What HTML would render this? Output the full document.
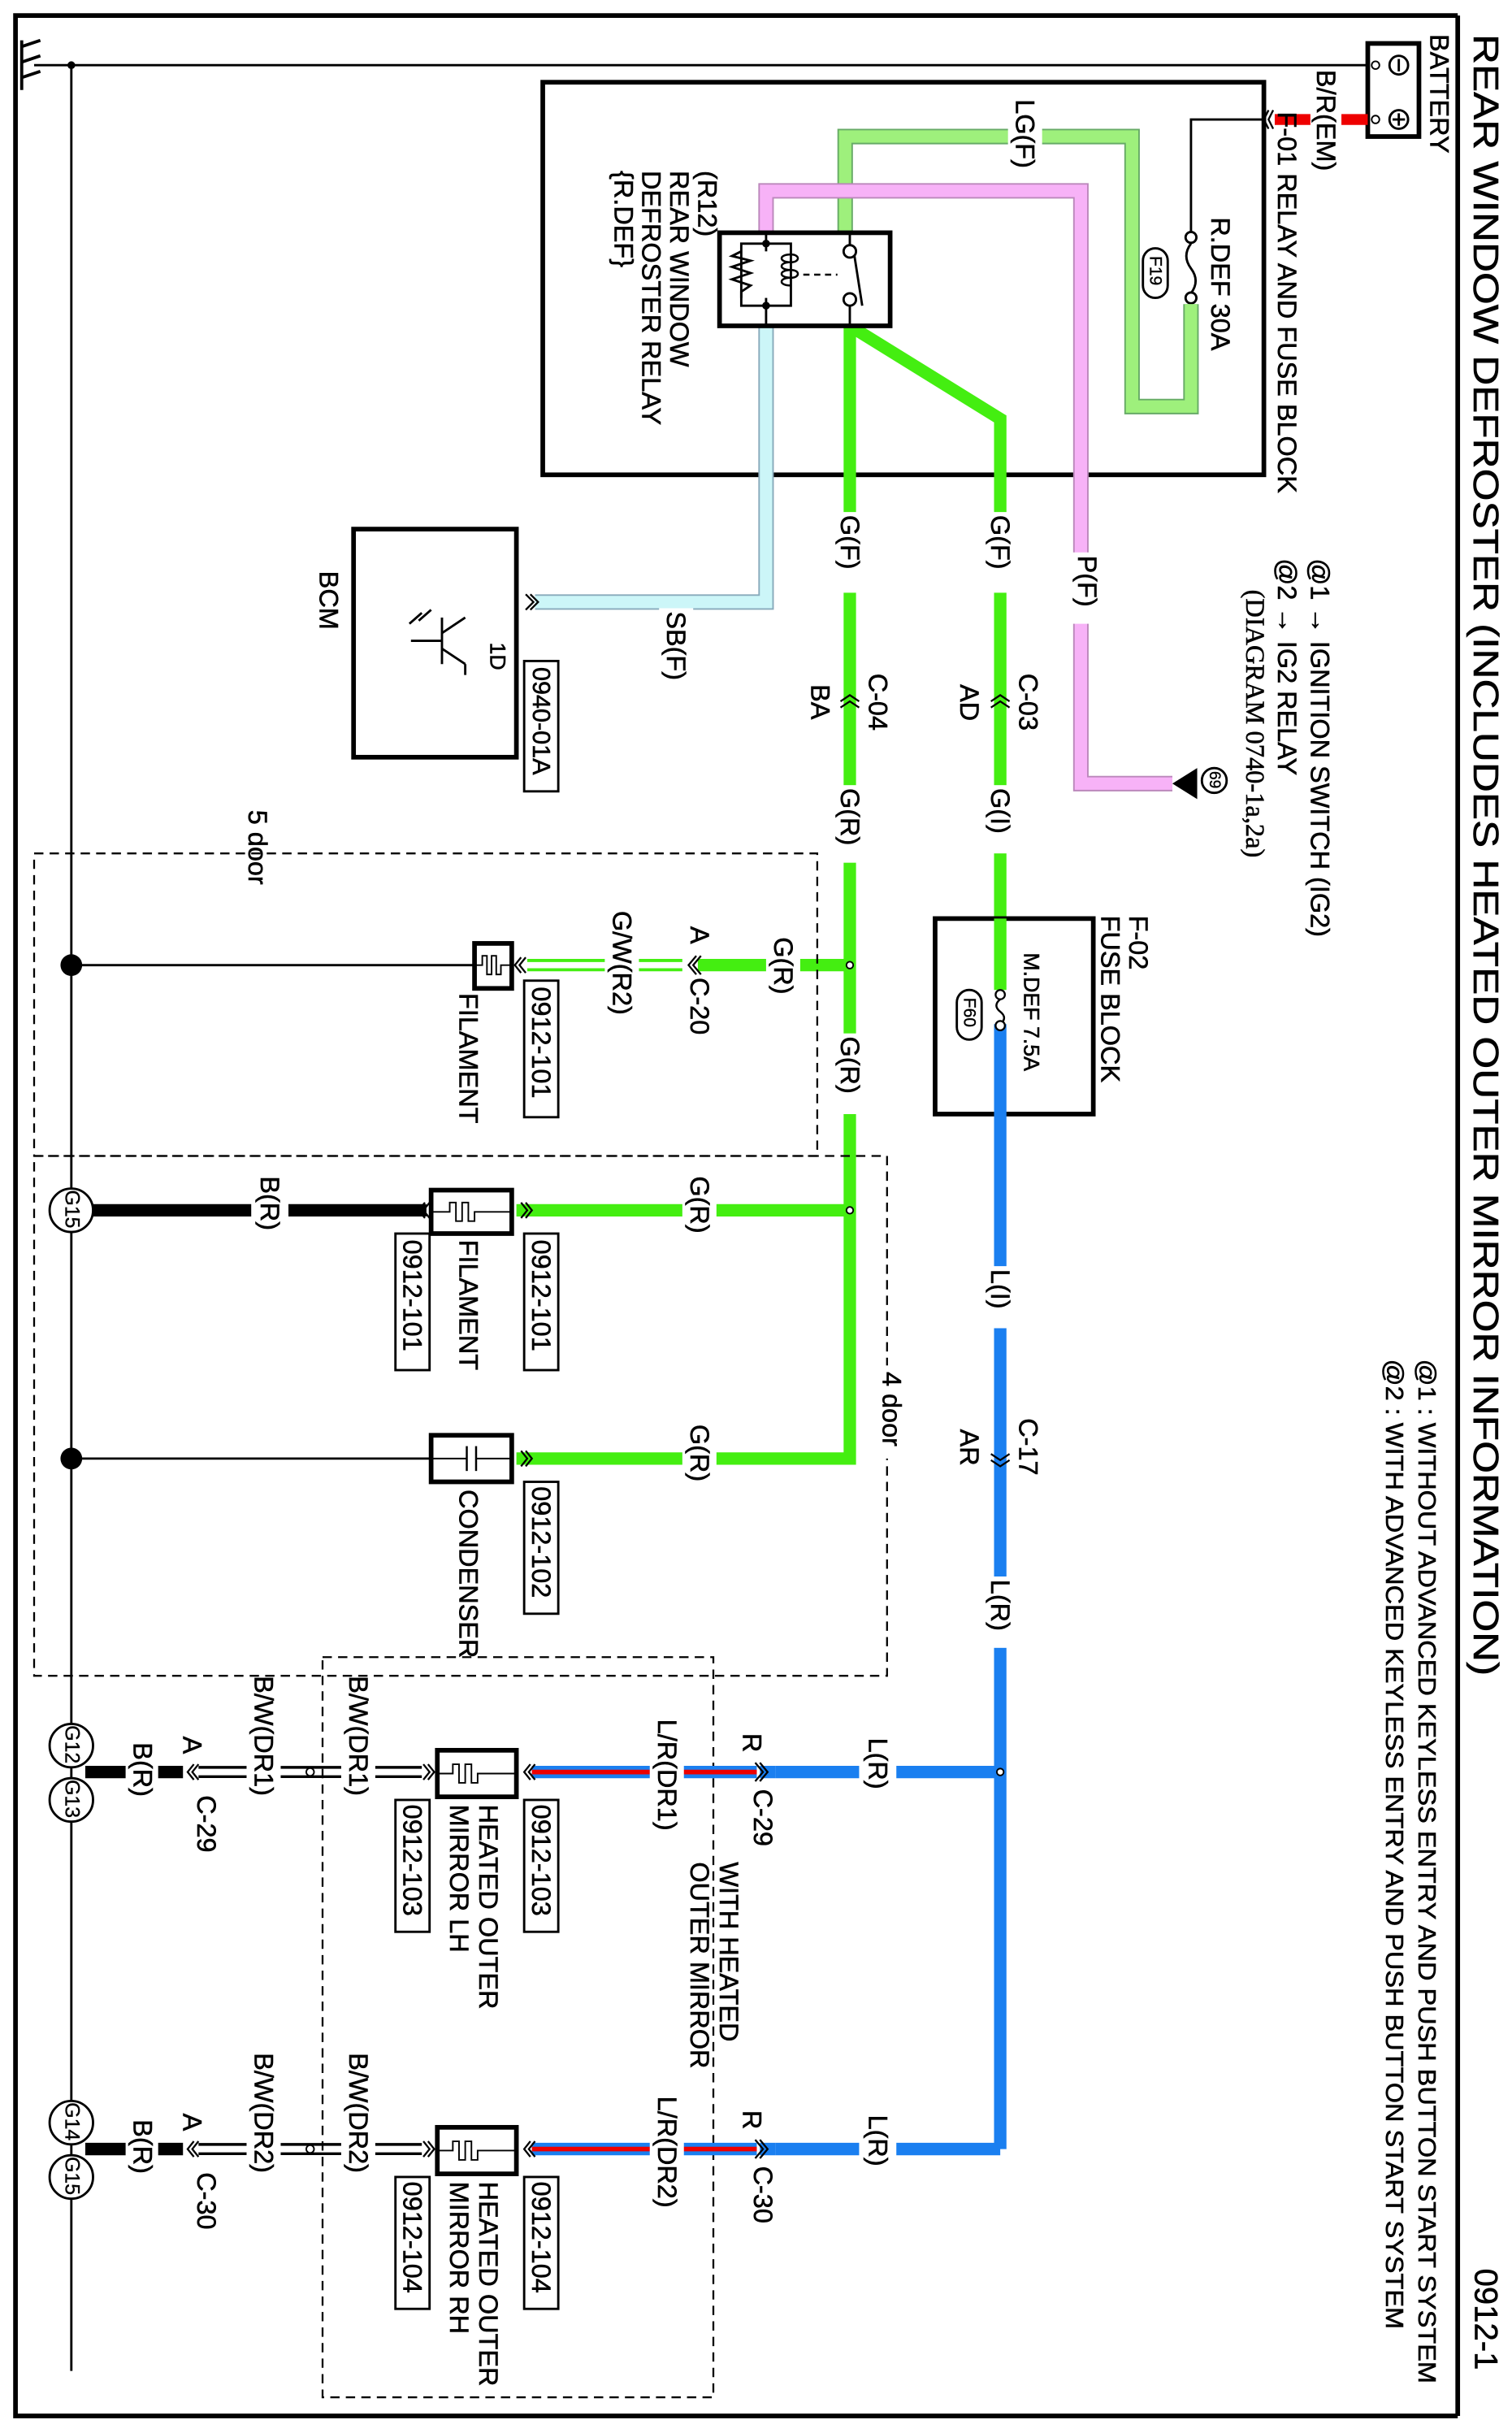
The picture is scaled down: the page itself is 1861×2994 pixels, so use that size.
<!DOCTYPE html>
<html><head><meta charset="utf-8"><style>
html,body{margin:0;padding:0;background:#fff}
svg{display:block}
text{font-family:"Liberation Sans",Arial,sans-serif;fill:#000}
.t{font-size:17px;dominant-baseline:central;stroke:#000;stroke-width:0.3}
.s{font-size:13px;dominant-baseline:central;stroke:#000;stroke-width:0.2}
</style></head><body>
<svg width="1861" height="2994" viewBox="0 0 975 1568" preserveAspectRatio="none" xmlns="http://www.w3.org/2000/svg">
<rect x="0" y="0" width="975" height="1568" fill="#fff"/>
<polyline points="940,10 10,10 10,1557 940,1557" fill="none" stroke="#000" stroke-width="3"/>
<line x1="940" y1="10" x2="940" y2="1557" stroke="#000" stroke-width="3"/>
<text class="t" style="font-size:23px" transform="translate(958,22) rotate(90)" textLength="1058" lengthAdjust="spacingAndGlyphs">REAR WINDOW DEFROSTER (INCLUDES HEATED OUTER MIRROR INFORMATION)</text>
<text class="t" style="font-size:21px" transform="translate(958,1462) rotate(90)">0912-1</text>
<text class="t" style="font-size:16px" transform="translate(920,876) rotate(90)" textLength="660" lengthAdjust="spacingAndGlyphs">@1 : WITHOUT ADVANCED KEYLESS ENTRY AND PUSH BUTTON START SYSTEM</text>
<text class="t" style="font-size:16px" transform="translate(899,876) rotate(90)" textLength="625" lengthAdjust="spacingAndGlyphs">@2 : WITH ADVANCED KEYLESS ENTRY AND PUSH BUTTON START SYSTEM</text>

<line x1="22" y1="42" x2="882" y2="42" stroke="#000" stroke-width="1.5"/>
<circle cx="46" cy="42" r="2.5" fill="#000"/>
<line x1="46" y1="42" x2="46" y2="1528" stroke="#000" stroke-width="1.5"/>
<g stroke="#000" stroke-width="2">
<line x1="14" y1="26" x2="14" y2="58"/><line x1="14" y1="30" x2="26" y2="26"/><line x1="14" y1="40" x2="26" y2="36"/><line x1="14" y1="50" x2="26" y2="46"/>
</g>

<rect x="882" y="28" width="33" height="60" fill="#fff" stroke="#000" stroke-width="3"/>
<circle cx="902" cy="42" r="6" fill="none" stroke="#000" stroke-width="1.5"/><line x1="902" y1="38" x2="902" y2="46" stroke="#000" stroke-width="1.5"/>
<circle cx="902" cy="77" r="6" fill="none" stroke="#000" stroke-width="1.5"/><line x1="902" y1="73" x2="902" y2="81" stroke="#000" stroke-width="1.5"/><line x1="898" y1="77" x2="906" y2="77" stroke="#000" stroke-width="1.5"/>
<circle cx="887" cy="42" r="2.5" fill="#fff" stroke="#000"/><circle cx="887" cy="77" r="2.5" fill="#fff" stroke="#000"/>
<text class="t" transform="translate(928,22) rotate(90)">BATTERY</text>
<line x1="822" y1="77" x2="882" y2="77" stroke="#e00" stroke-width="7"/>
<rect x="845" y="44" width="20" height="70" fill="#fff"/>
<text class="t" transform="translate(855,45) rotate(90)">B/R(EM)</text>
<polyline points="818,71 815,77 818,83" fill="none" stroke="#000" stroke-width="1.2"/>
<polyline points="821,71 818,77 821,83" fill="none" stroke="#000" stroke-width="1.2"/>
<text class="t" transform="translate(830,72) rotate(90)">F-01 RELAY AND FUSE BLOCK</text>

<rect x="350" y="53" width="465" height="253" fill="none" stroke="#000" stroke-width="3"/>
<polyline points="815,77 768,77 768,150" fill="none" stroke="#000" stroke-width="1.5"/>
<circle cx="768" cy="153" r="3.5" fill="#fff" stroke="#000" stroke-width="1.5"/>
<path d="M768,157 q-6,8 0,16 q6,8 0,16" fill="none" stroke="#000" stroke-width="1.5"/>
<circle cx="768" cy="192" r="3.5" fill="#fff" stroke="#000" stroke-width="1.5"/>
<text class="t" transform="translate(787,140) rotate(90)">R.DEF 30A</text>
<rect x="737" y="160" width="16" height="32" rx="8" fill="none" stroke="#000" stroke-width="1.5"/>
<text class="s" style="font-size:11px" transform="translate(745,165) rotate(90)">F19</text>
<polyline points="768,196 768,262 730,262 730,88 545,88 545,150" fill="none" stroke="#6a6" stroke-width="10"/>
<polyline points="768,196 768,262 730,262 730,88 545,88 545,150" fill="none" stroke="#9ef07c" stroke-width="8"/>
<rect x="650" y="62" width="22" height="52" fill="#fff"/>
<text class="t" transform="translate(661,64) rotate(90)">LG(F)</text>
<polyline points="494,150 494,123 697,123 697,505 756,505" fill="none" stroke="#b8b" stroke-width="10"/>
<polyline points="494,150 494,123 697,123 697,505 756,505" fill="none" stroke="#f7b2f7" stroke-width="8"/>
<rect x="688" y="356" width="22" height="46" fill="#fff"/>
<text class="t" transform="translate(701,358) rotate(90)">P(F)</text>
<polygon points="756,505 772,495 772,515" fill="#000"/>
<circle cx="783" cy="503" r="8" fill="#fff" stroke="#000" stroke-width="1.5"/>
<text class="s" style="font-size:10px" transform="translate(783,497) rotate(90)">69</text>
<text class="t" transform="translate(851,360) rotate(90)">@1 → IGNITION SWITCH (IG2)</text>
<text class="t" transform="translate(830,360) rotate(90)">@2 → IG2 RELAY</text>
<text class="t" style="font-family:'Liberation Serif',serif" transform="translate(809,380) rotate(90)">(DIAGRAM 0740-1a,2a)</text>
<text class="t" transform="translate(456,110) rotate(90)">(R12)</text>
<text class="t" transform="translate(438,110) rotate(90)">REAR WINDOW</text>
<text class="t" transform="translate(420,110) rotate(90)">DEFROSTER RELAY</text>
<text class="t" transform="translate(402,110) rotate(90)">{R.DEF}</text>

<polyline points="494,210 494,388 345,388" fill="none" stroke="#8ab" stroke-width="10"/>
<polyline points="494,210 494,388 345,388" fill="none" stroke="#ccf6f8" stroke-width="8"/>
<rect x="425" y="392" width="22" height="52" fill="#fff"/>
<text class="t" transform="translate(436,394) rotate(90)">SB(F)</text>
<polyline points="548,210 548,940 333,940" fill="none" stroke="#44ee11" stroke-width="8"/>
<polyline points="548,210 645,270 645,640" fill="none" stroke="#44ee11" stroke-width="8"/>
<line x1="548" y1="622" x2="450" y2="622" stroke="#44ee11" stroke-width="8"/>
<line x1="548" y1="780" x2="333" y2="780" stroke="#44ee11" stroke-width="8"/>
<rect x="464" y="150" width="110" height="60" fill="#fff" stroke="#000" stroke-width="3"/>
<line x1="494" y1="150" x2="494" y2="210" stroke="#000" stroke-width="1.5"/>
<polyline points="494,157 510,157 510,197 494,197 478,197 478,157 494,157" fill="none" stroke="#000" stroke-width="1.5"/>
<circle cx="494" cy="157" r="2.5" fill="#000"/><circle cx="494" cy="197" r="2.5" fill="#000"/>
<rect x="480" y="162" width="28" height="30" fill="#fff"/>
<polyline points="478,162 472,165 484,168 472,172 484,176 472,180 484,184 478,188 478,192" fill="none" stroke="#000" stroke-width="1.5"/>
<path d="M510,164 c-8,0 -8,5 0,5 c-8,0 -8,5 0,5 c-8,0 -8,5 0,5 c-8,0 -8,5 0,5 M510,164 c6,0 6,5 0,5 M510,174 c6,0 6,5 0,5" fill="none" stroke="#000" stroke-width="1.3"/>
<line x1="518" y1="177" x2="540" y2="177" stroke="#000" stroke-width="1.3" stroke-dasharray="4,3"/>
<line x1="548" y1="150" x2="548" y2="158" stroke="#000" stroke-width="1.5"/>
<circle cx="548" cy="162" r="4" fill="#fff" stroke="#000" stroke-width="1.5"/>
<circle cx="548" cy="193" r="4" fill="#fff" stroke="#000" stroke-width="1.5"/>
<line x1="548" y1="197" x2="548" y2="210" stroke="#000" stroke-width="1.5"/>
<line x1="551" y1="165" x2="556" y2="197" stroke="#000" stroke-width="1.5"/>

<rect x="537" y="330" width="22" height="52" fill="#fff"/>
<text class="t" transform="translate(548,332) rotate(90)">G(F)</text>
<rect x="634" y="330" width="22" height="52" fill="#fff"/>
<text class="t" transform="translate(645,332) rotate(90)">G(F)</text>
<rect x="537" y="506" width="22" height="50" fill="#fff"/>
<text class="t" transform="translate(548,508) rotate(90)">G(R)</text>
<rect x="634" y="506" width="22" height="44" fill="#fff"/>
<text class="t" transform="translate(645,508) rotate(90)">G(I)</text>
<rect x="537" y="666" width="22" height="52" fill="#fff"/>
<text class="t" transform="translate(548,668) rotate(90)">G(R)</text>
<polyline points="542,452 548,448 554,452" fill="none" stroke="#000" stroke-width="1.2"/>
<polyline points="542,456 548,452 554,456" fill="none" stroke="#000" stroke-width="1.2"/>
<text class="t" transform="translate(566,434) rotate(90)">C-04</text>
<text class="t" transform="translate(529,441) rotate(90)">BA</text>
<polyline points="639,452 645,448 651,452" fill="none" stroke="#000" stroke-width="1.2"/>
<polyline points="639,456 645,452 651,456" fill="none" stroke="#000" stroke-width="1.2"/>
<text class="t" transform="translate(663,434) rotate(90)">C-03</text>
<text class="t" transform="translate(625,441) rotate(90)">AD</text>

<rect x="228" y="341" width="105" height="147" fill="#fff" stroke="#000" stroke-width="3"/>
<text class="t" transform="translate(212,368) rotate(90)">BCM</text>
<line x1="333" y1="388" x2="333" y2="440" stroke="#000" stroke-width="1.5"/>
<text class="t" style="font-size:14px" transform="translate(321,414) rotate(90)">1D</text>
<polyline points="339,383 344,388 339,393" fill="none" stroke="#000" stroke-width="1.2"/>
<polyline points="342,383 347,388 342,393" fill="none" stroke="#000" stroke-width="1.2"/>
<rect x="338" y="426" width="22" height="84" fill="#fff" stroke="#000" stroke-width="1.5"/>
<text class="t" style="font-size:16px" transform="translate(349,430) rotate(90)">0940-01A</text>
<g stroke="#000" stroke-width="1.5" fill="none">
<line x1="285" y1="398" x2="285" y2="428"/><line x1="285" y1="408" x2="300" y2="398"/><line x1="285" y1="418" x2="300" y2="428"/>
<line x1="300" y1="428" x2="300" y2="435"/><line x1="265" y1="413" x2="285" y2="413"/>
<line x1="270" y1="400" x2="278" y2="393"/><line x1="264" y1="402" x2="272" y2="395"/>
</g>

<rect x="603" y="592" width="102" height="126" fill="#fff" stroke="#000" stroke-width="3"/>
<line x1="645" y1="592" x2="645" y2="638" stroke="#44ee11" stroke-width="8"/>
<line x1="645" y1="660" x2="645" y2="1385" stroke="#1a7ff0" stroke-width="8"/>
<line x1="645" y1="1385" x2="500" y2="1385" stroke="#1a7ff0" stroke-width="8"/>
<line x1="645" y1="1142" x2="500" y2="1142" stroke="#1a7ff0" stroke-width="8"/>
<circle cx="645" cy="641" r="3" fill="#fff" stroke="#000" stroke-width="1.2"/>
<path d="M645,644 q-5,4 0,8 q5,4 0,8" fill="none" stroke="#000" stroke-width="1.3"/>
<circle cx="645" cy="661" r="3" fill="#fff" stroke="#000" stroke-width="1.2"/>
<text class="t" style="font-size:14px" transform="translate(665,614) rotate(90)">M.DEF 7.5A</text>
<rect x="617" y="638" width="16" height="32" rx="8" fill="none" stroke="#000" stroke-width="1.5"/>
<text class="s" style="font-size:11px" transform="translate(625,643) rotate(90)">F60</text>
<text class="t" transform="translate(734,590) rotate(90)">F-02</text>
<text class="t" transform="translate(716,590) rotate(90)">FUSE BLOCK</text>
<rect x="634" y="816" width="22" height="40" fill="#fff"/>
<text class="t" transform="translate(645,818) rotate(90)">L(I)</text>
<polyline points="639,937 645,941 651,937" fill="none" stroke="#000" stroke-width="1.2"/>
<polyline points="639,941 645,945 651,941" fill="none" stroke="#000" stroke-width="1.2"/>
<text class="t" transform="translate(663,914) rotate(90)">C-17</text>
<text class="t" transform="translate(625,921) rotate(90)">AR</text>
<rect x="634" y="1016" width="22" height="46" fill="#fff"/>
<text class="t" transform="translate(645,1018) rotate(90)">L(R)</text>
<circle cx="645" cy="1142" r="2.2" fill="#fff" stroke="#000"/>

<rect x="22" y="550" width="505" height="195" fill="none" stroke="#000" stroke-width="1.2" stroke-dasharray="6,4"/>
<rect x="22" y="745" width="550" height="335" fill="none" stroke="#000" stroke-width="1.2" stroke-dasharray="6,4"/>
<rect x="208" y="1068" width="252" height="477" fill="none" stroke="#000" stroke-width="1.2" stroke-dasharray="6,4"/>
<text class="t" transform="translate(166,522) rotate(90)">5 door</text>
<rect x="566" y="880" width="18" height="60" fill="#fff"/>
<text class="t" transform="translate(575,884) rotate(90)">4 door</text>

<line x1="46" y1="622" x2="306" y2="622" stroke="#000" stroke-width="1.5"/>
<circle cx="46" cy="622" r="7" fill="#000"/>
<line x1="340" y1="619" x2="440" y2="619" stroke="#44ee11" stroke-width="2"/>
<line x1="340" y1="625" x2="440" y2="625" stroke="#44ee11" stroke-width="2"/>
<rect x="390" y="585" width="22" height="76" fill="#fff"/>
<text class="t" transform="translate(401,587) rotate(90)">G/W(R2)</text>
<polyline points="449,616 444,622 449,628" fill="none" stroke="#000" stroke-width="1.2"/>
<polyline points="452,616 447,622 452,628" fill="none" stroke="#000" stroke-width="1.2"/>
<text class="t" transform="translate(451,597) rotate(90)">A</text>
<text class="t" transform="translate(451,630) rotate(90)">C-20</text>
<rect x="494" y="602" width="22" height="52" fill="#fff"/>
<text class="t" transform="translate(505,604) rotate(90)">G(R)</text>
<circle cx="548" cy="622" r="2.2" fill="#fff" stroke="#000"/>
<rect x="306" y="608" width="24" height="29" fill="#fff" stroke="#000" stroke-width="3"/>
<polyline points="306,622 311,622 311,616 314,616 314,628 317,628 317,616 320,616 320,628 323,628 323,622 330,622" fill="none" stroke="#000" stroke-width="1"/>
<polyline points="336,617 332,622 336,627" fill="none" stroke="#000" stroke-width="1.2"/>
<polyline points="339,617 335,622 339,627" fill="none" stroke="#000" stroke-width="1.2"/>
<rect x="338" y="632" width="22" height="88" fill="#fff" stroke="#000" stroke-width="1.5"/>
<text class="t" transform="translate(349,636) rotate(90)">0912-101</text>
<text class="t" transform="translate(302,640) rotate(90)">FILAMENT</text>

<line x1="60" y1="780" x2="275" y2="780" stroke="#000" stroke-width="8"/>
<rect x="162" y="756" width="24" height="50" fill="#fff"/>
<text class="t" transform="translate(174,758) rotate(90)">B(R)</text>
<circle cx="46" cy="780" r="14" fill="#fff" stroke="#000" stroke-width="1.5"/>
<text class="s" style="font-size:13px" transform="translate(46,767) rotate(90)">G15</text>
<rect x="440" y="756" width="22" height="52" fill="#fff"/>
<text class="t" transform="translate(451,758) rotate(90)">G(R)</text>
<circle cx="548" cy="780" r="2.2" fill="#fff" stroke="#000"/>
<rect x="278" y="767" width="52" height="28" fill="#fff" stroke="#000" stroke-width="3"/>
<polyline points="278,781 290,781 290,775 294,775 294,787 298,787 298,775 302,775 302,787 306,787 306,781 330,781" fill="none" stroke="#000" stroke-width="1"/>
<polyline points="336,775 340,780 336,785" fill="none" stroke="#000" stroke-width="1.2"/>
<polyline points="339,775 343,780 339,785" fill="none" stroke="#000" stroke-width="1.2"/>
<polyline points="274,775 270,780 274,785" fill="none" stroke="#000" stroke-width="1.2"/>
<polyline points="277,775 273,780 277,785" fill="none" stroke="#000" stroke-width="1.2"/>
<rect x="338" y="795" width="22" height="88" fill="#fff" stroke="#000" stroke-width="1.5"/>
<text class="t" transform="translate(349,799) rotate(90)">0912-101</text>
<rect x="255" y="795" width="22" height="88" fill="#fff" stroke="#000" stroke-width="1.5"/>
<text class="t" transform="translate(266,799) rotate(90)">0912-101</text>
<text class="t" transform="translate(302,799) rotate(90)">FILAMENT</text>

<line x1="46" y1="940" x2="278" y2="940" stroke="#000" stroke-width="1.5"/>
<circle cx="46" cy="940" r="7" fill="#000"/>
<rect x="440" y="916" width="22" height="52" fill="#fff"/>
<text class="t" transform="translate(451,918) rotate(90)">G(R)</text>
<rect x="278" y="925" width="52" height="30" fill="#fff" stroke="#000" stroke-width="3"/>
<line x1="278" y1="940" x2="301" y2="940" stroke="#000" stroke-width="1"/><line x1="307" y1="940" x2="330" y2="940" stroke="#000" stroke-width="1"/>
<line x1="301" y1="932" x2="301" y2="948" stroke="#000" stroke-width="1.3"/><line x1="307" y1="932" x2="307" y2="948" stroke="#000" stroke-width="1.3"/>
<polyline points="336,935 340,940 336,945" fill="none" stroke="#000" stroke-width="1.2"/>
<polyline points="339,935 343,940 339,945" fill="none" stroke="#000" stroke-width="1.2"/>
<rect x="338" y="955" width="22" height="85" fill="#fff" stroke="#000" stroke-width="1.5"/>
<text class="t" transform="translate(349,958) rotate(90)">0912-102</text>
<text class="t" transform="translate(302,960) rotate(90)">CONDENSER</text>

<g>
<rect x="554" y="1118" width="24" height="50" fill="#fff"/>
<text class="t" transform="translate(566,1120) rotate(90)">L(R)</text>
<line x1="490" y1="1142" x2="500" y2="1142" stroke="#1a7ff0" stroke-width="8"/>
<line x1="343" y1="1142" x2="488" y2="1142" stroke="#1a7ff0" stroke-width="8"/>
<line x1="343" y1="1142" x2="488" y2="1142" stroke="#e00" stroke-width="3"/>
<rect x="419" y="1106" width="22" height="80" fill="#fff"/>
<text class="t" transform="translate(430,1108) rotate(90)">L/R(DR1)</text>
<polyline points="487,1136 492,1142 487,1148" fill="none" stroke="#000" stroke-width="1.2"/>
<polyline points="490,1136 495,1142 490,1148" fill="none" stroke="#000" stroke-width="1.2"/>
<text class="t" transform="translate(485,1117) rotate(90)">R</text>
<text class="t" transform="translate(492,1153) rotate(90)">C-29</text>
<text class="t" transform="translate(470,1200) rotate(90)">WITH HEATED</text>
<text class="t" transform="translate(451,1200) rotate(90)">OUTER MIRROR</text>
<rect x="282" y="1128" width="51" height="30" fill="#fff" stroke="#000" stroke-width="3"/>
<polyline points="282,1143 292,1143 292,1137 296,1137 296,1149 300,1149 300,1137 304,1137 304,1149 308,1149 308,1143 333,1143" fill="none" stroke="#000" stroke-width="1"/>
<polyline points="342,1137 338,1142 342,1147" fill="none" stroke="#000" stroke-width="1.2"/>
<polyline points="345,1137 341,1142 345,1147" fill="none" stroke="#000" stroke-width="1.2"/>
<rect x="338" y="1160" width="22" height="85" fill="#fff" stroke="#000" stroke-width="1.5"/>
<text class="t" transform="translate(349,1163) rotate(90)">0912-103</text>
<rect x="255" y="1160" width="22" height="85" fill="#fff" stroke="#000" stroke-width="1.5"/>
<text class="t" transform="translate(266,1163) rotate(90)">0912-103</text>
<text class="t" transform="translate(315,1163) rotate(90)">HEATED OUTER</text>
<text class="t" transform="translate(296,1163) rotate(90)">MIRROR LH</text>
<line x1="128" y1="1139" x2="272" y2="1139" stroke="#000" stroke-width="1.8"/>
<line x1="128" y1="1145" x2="272" y2="1145" stroke="#000" stroke-width="1.8"/>
<rect x="159" y="1134" width="22" height="16" fill="#fff"/>
<rect x="220" y="1134" width="22" height="16" fill="#fff"/>
<circle cx="200" cy="1142" r="2.5" fill="#fff" stroke="#000"/>
<polyline points="276,1137 280,1142 276,1147" fill="none" stroke="#000" stroke-width="1.2"/>
<polyline points="273,1137 277,1142 273,1147" fill="none" stroke="#000" stroke-width="1.2"/>
<text class="t" transform="translate(231,1080) rotate(90)">B/W(DR1)</text>
<text class="t" transform="translate(170,1080) rotate(90)">B/W(DR1)</text>
<polyline points="125,1137 121,1142 125,1147" fill="none" stroke="#000" stroke-width="1.2"/>
<polyline points="128,1137 124,1142 128,1147" fill="none" stroke="#000" stroke-width="1.2"/>
<text class="t" transform="translate(124,1119) rotate(90)">A</text>
<text class="t" transform="translate(133,1157) rotate(90)">C-29</text>
<line x1="55" y1="1142" x2="81" y2="1142" stroke="#000" stroke-width="8"/>
<line x1="102" y1="1142" x2="118" y2="1142" stroke="#000" stroke-width="8"/>
<text class="t" transform="translate(92,1123) rotate(90)">B(R)</text>
<circle cx="46" cy="1125" r="14" fill="#fff" stroke="#000" stroke-width="1.5"/>
<circle cx="46" cy="1160" r="14" fill="#fff" stroke="#000" stroke-width="1.5"/>
<text class="s" transform="translate(46,1112) rotate(90)">G12</text>
<text class="s" transform="translate(46,1147) rotate(90)">G13</text>
</g>
<g transform="translate(0,243)">
<rect x="554" y="1118" width="24" height="50" fill="#fff"/>
<text class="t" transform="translate(566,1120) rotate(90)">L(R)</text>
<line x1="490" y1="1142" x2="500" y2="1142" stroke="#1a7ff0" stroke-width="8"/>
<line x1="343" y1="1142" x2="488" y2="1142" stroke="#1a7ff0" stroke-width="8"/>
<line x1="343" y1="1142" x2="488" y2="1142" stroke="#e00" stroke-width="3"/>
<rect x="419" y="1106" width="22" height="80" fill="#fff"/>
<text class="t" transform="translate(430,1108) rotate(90)">L/R(DR2)</text>
<polyline points="487,1136 492,1142 487,1148" fill="none" stroke="#000" stroke-width="1.2"/>
<polyline points="490,1136 495,1142 490,1148" fill="none" stroke="#000" stroke-width="1.2"/>
<text class="t" transform="translate(485,1117) rotate(90)">R</text>
<text class="t" transform="translate(492,1153) rotate(90)">C-30</text>
<rect x="282" y="1128" width="51" height="30" fill="#fff" stroke="#000" stroke-width="3"/>
<polyline points="282,1143 292,1143 292,1137 296,1137 296,1149 300,1149 300,1137 304,1137 304,1149 308,1149 308,1143 333,1143" fill="none" stroke="#000" stroke-width="1"/>
<polyline points="342,1137 338,1142 342,1147" fill="none" stroke="#000" stroke-width="1.2"/>
<polyline points="345,1137 341,1142 345,1147" fill="none" stroke="#000" stroke-width="1.2"/>
<rect x="338" y="1160" width="22" height="85" fill="#fff" stroke="#000" stroke-width="1.5"/>
<text class="t" transform="translate(349,1163) rotate(90)">0912-104</text>
<rect x="255" y="1160" width="22" height="85" fill="#fff" stroke="#000" stroke-width="1.5"/>
<text class="t" transform="translate(266,1163) rotate(90)">0912-104</text>
<text class="t" transform="translate(315,1163) rotate(90)">HEATED OUTER</text>
<text class="t" transform="translate(296,1163) rotate(90)">MIRROR RH</text>
<line x1="128" y1="1139" x2="272" y2="1139" stroke="#000" stroke-width="1.8"/>
<line x1="128" y1="1145" x2="272" y2="1145" stroke="#000" stroke-width="1.8"/>
<rect x="159" y="1134" width="22" height="16" fill="#fff"/>
<rect x="220" y="1134" width="22" height="16" fill="#fff"/>
<circle cx="200" cy="1142" r="2.5" fill="#fff" stroke="#000"/>
<polyline points="276,1137 280,1142 276,1147" fill="none" stroke="#000" stroke-width="1.2"/>
<polyline points="273,1137 277,1142 273,1147" fill="none" stroke="#000" stroke-width="1.2"/>
<text class="t" transform="translate(231,1080) rotate(90)">B/W(DR2)</text>
<text class="t" transform="translate(170,1080) rotate(90)">B/W(DR2)</text>
<polyline points="125,1137 121,1142 125,1147" fill="none" stroke="#000" stroke-width="1.2"/>
<polyline points="128,1137 124,1142 128,1147" fill="none" stroke="#000" stroke-width="1.2"/>
<text class="t" transform="translate(124,1119) rotate(90)">A</text>
<text class="t" transform="translate(133,1157) rotate(90)">C-30</text>
<line x1="55" y1="1142" x2="81" y2="1142" stroke="#000" stroke-width="8"/>
<line x1="102" y1="1142" x2="118" y2="1142" stroke="#000" stroke-width="8"/>
<text class="t" transform="translate(92,1123) rotate(90)">B(R)</text>
<circle cx="46" cy="1125" r="14" fill="#fff" stroke="#000" stroke-width="1.5"/>
<circle cx="46" cy="1160" r="14" fill="#fff" stroke="#000" stroke-width="1.5"/>
<text class="s" transform="translate(46,1112) rotate(90)">G14</text>
<text class="s" transform="translate(46,1147) rotate(90)">G15</text>
</g>
</svg>
</body></html>
